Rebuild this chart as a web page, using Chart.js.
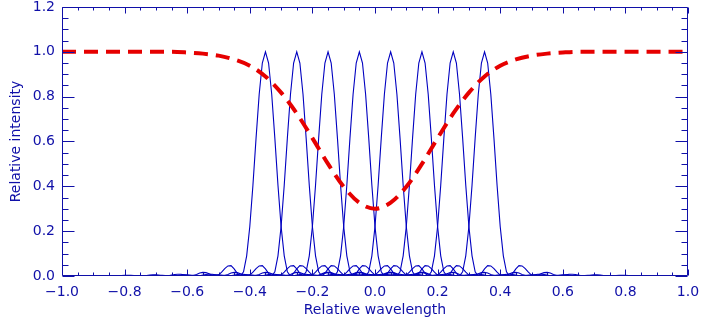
<!DOCTYPE html>
<html>
<head>
<meta charset="utf-8">
<script src="https://cdn.jsdelivr.net/npm/chart.js@4.4.1/dist/chart.umd.min.js"></script>
<style>
	html, body { margin: 0; padding: 0; background: #fff; }
</style>
</head>
<body>
<canvas id="chart" width="708" height="324"></canvas>
<script>
// Channel centres (relative wavelength)
const channelCenters = [-0.35, -0.25, -0.15, -0.05, 0.05, 0.15, 0.25, 0.35];

// One channel response, right half, sampled every 0.01 from the centre outwards
const profileStep = 0.01;
const profileHalf = [
	1.000, 0.950, 0.811, 0.615, 0.405, 0.221, 0.090, 0.019, 0.000, 0.012,
	0.032, 0.046, 0.045, 0.033, 0.017, 0.004, 0.000, 0.003, 0.010, 0.015,
	0.016, 0.013, 0.007, 0.002, 0.000, 0.002, 0.005, 0.008, 0.008, 0.007,
	0.004, 0.001, 0.000, 0.001, 0.003, 0.005, 0.005, 0.004, 0.002, 0.001,
	0.000, 0.001, 0.002, 0.003, 0.003, 0.003, 0.002, 0.000
];

// Envelope (red dashed), sampled every 0.05 from -1.0 to 1.0
const envelopeStart = -1.0;
const envelopeStep = 0.05;
const envelope = [
	1.000, 1.000, 1.000, 1.000, 1.000, 1.000, 1.000, 1.000,
	0.997, 0.992, 0.983, 0.966, 0.938, 0.890, 0.818, 0.725,
	0.615, 0.500, 0.398, 0.327, 0.300, 0.327, 0.398, 0.500,
	0.615, 0.725, 0.818, 0.890, 0.938, 0.966, 0.983, 0.992,
	0.997, 1.000, 1.000, 1.000, 1.000, 1.000, 1.000, 1.000, 1.000
];

const AXIS_COLOR = '#1010a8';
const LINE_COLOR = '#0000c0';
const ENV_COLOR = '#e60000';
const FONT = {family: "'DejaVu Sans', sans-serif", size: 14};

function round3(v) {
	return Math.round(v * 1000) / 1000;
}

function fmt(v) {
	if (Math.abs(v) < 1e-9) v = 0;
	return v.toFixed(1).replace('-', '\u2212');
}

// Mirror the half profile and shift it to each channel centre
const offsets = [];
const profile = [];
for (let k = profileHalf.length - 1; k > 0; k--) {
	offsets.push(-k * profileStep);
	profile.push(profileHalf[k]);
}
for (let k = 0; k < profileHalf.length; k++) {
	offsets.push(k * profileStep);
	profile.push(profileHalf[k]);
}

const datasets = [];

datasets.push({
	data: envelope.map((v, i) => ({x: round3(envelopeStart + i * envelopeStep), y: v})),
	borderColor: ENV_COLOR,
	borderWidth: 4,
	borderDash: [14, 8],
	borderCapStyle: 'butt',
	cubicInterpolationMode: 'monotone',
	pointRadius: 0
});

channelCenters.forEach(function(center) {
	datasets.push({
		data: offsets.map((d, i) => ({x: round3(center + d), y: profile[i]})),
		borderColor: LINE_COLOR,
		borderWidth: 1.1,
		tension: 0,
		pointRadius: 0
	});
});

// Box round the plot with inward minor/major ticks on all four sides
const frame = {
	id: 'frame',
	afterDatasetsDraw(chart) {
		const {ctx, chartArea: a, scales: {x, y}} = chart;
		const left = Math.round(a.left) + 0.5;
		const right = Math.round(a.right) - 0.5;
		const top = Math.round(a.top) + 0.5;
		const bottom = Math.round(a.bottom) - 0.5;

		ctx.save();
		ctx.strokeStyle = AXIS_COLOR;
		ctx.lineWidth = 1;
		ctx.beginPath();
		ctx.rect(left, top, right - left, bottom - top);

		for (let i = 0; i <= 40; i++) {
			const px = Math.round(x.getPixelForValue(-1 + i * 0.05)) + 0.5;
			const len = i % 4 === 0 ? 6 : 3;
			ctx.moveTo(px, bottom);
			ctx.lineTo(px, bottom - len);
			ctx.moveTo(px, top);
			ctx.lineTo(px, top + len);
		}
		for (let i = 0; i <= 24; i++) {
			const py = Math.round(y.getPixelForValue(i * 0.05)) + 0.5;
			const len = i % 4 === 0 ? 12 : 6;
			ctx.moveTo(left, py);
			ctx.lineTo(left + len, py);
			ctx.moveTo(right, py);
			ctx.lineTo(right - len, py);
		}
		ctx.stroke();
		ctx.restore();
	}
};

new Chart(document.getElementById('chart'), {
	type: 'line',
	data: {datasets: datasets},
	options: {
		responsive: false,
		animation: false,
		devicePixelRatio: 1,
		layout: {padding: {top: 7, right: 20, left: 0, bottom: 0}},
		plugins: {
			legend: {display: false},
			tooltip: {enabled: false}
		},
		scales: {
			x: {
				type: 'linear',
				min: -1,
				max: 1,
				grid: {display: false, drawTicks: false},
				border: {display: false},
				ticks: {
					stepSize: 0.2,
					color: AXIS_COLOR,
					font: FONT,
					padding: 8,
					maxRotation: 0,
					autoSkip: false,
					callback: v => fmt(v)
				},
				title: {
					display: true,
					text: 'Relative wavelength',
					color: AXIS_COLOR,
					font: FONT,
					padding: {top: 0, bottom: 5}
				},
				afterFit: s => {
					s.height = 48;
					s.paddingLeft = 0;
					s.paddingRight = 0;
				}
			},
			y: {
				min: 0,
				max: 1.2,
				grid: {display: false, drawTicks: false},
				border: {display: false},
				ticks: {
					stepSize: 0.2,
					color: AXIS_COLOR,
					font: FONT,
					padding: 7,
					callback: v => fmt(v)
				},
				title: {
					display: true,
					text: 'Relative intensity',
					color: AXIS_COLOR,
					font: FONT,
					padding: {top: 8, bottom: 0}
				},
				afterFit: s => {
					s.width = 62;
					s.paddingTop = 0;
					s.paddingBottom = 0;
				}
			}
		}
	},
	plugins: [frame]
});
</script>
</body>
</html>
